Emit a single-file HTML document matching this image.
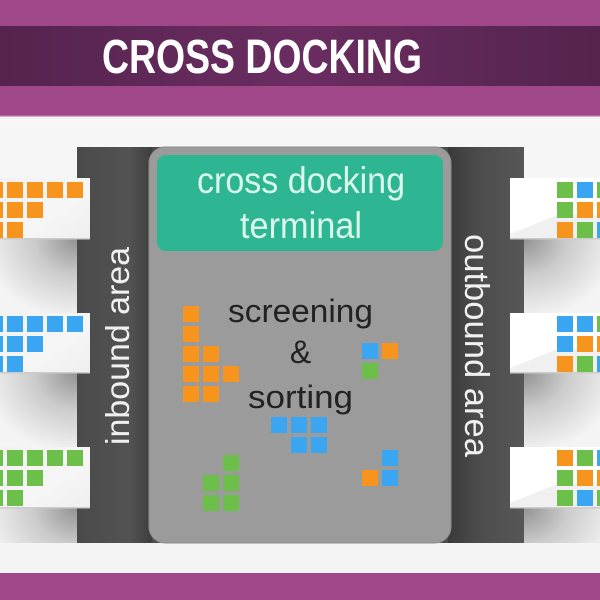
<!DOCTYPE html>
<html>
<head>
<meta charset="utf-8">
<style>
  html, body { margin: 0; padding: 0; background: #f4f4f4; }
  svg { display: block; }
  text { font-family: "Liberation Sans", "DejaVu Sans", sans-serif; }
</style>
</head>
<body>
<svg width="600" height="600" viewBox="0 0 600 600" xmlns="http://www.w3.org/2000/svg">
  <defs>
    <linearGradient id="band" x1="0" y1="0" x2="1" y2="0">
      <stop offset="0" stop-color="#55234e"/>
      <stop offset="0.5" stop-color="#6a2d61"/>
      <stop offset="1" stop-color="#55234e"/>
    </linearGradient>
    <linearGradient id="wall" x1="0" y1="0" x2="0" y2="1">
      <stop offset="0" stop-color="#ececec"/>
      <stop offset="0.1" stop-color="#f7f7f7"/>
      <stop offset="1" stop-color="#f4f4f4"/>
    </linearGradient>
    <radialGradient id="shL" cx="77" cy="239" r="95" gradientUnits="userSpaceOnUse" gradientTransform="translate(77 239) scale(1 0.85) translate(-77 -239)">
      <stop offset="0" stop-color="#929292"/>
      <stop offset="0.45" stop-color="#cbcbcb"/>
      <stop offset="1" stop-color="#f4f4f4"/>
    </radialGradient>
    <radialGradient id="shR" cx="524" cy="239" r="95" gradientUnits="userSpaceOnUse" gradientTransform="translate(524 239) scale(1 0.85) translate(-524 -239)">
      <stop offset="0" stop-color="#929292"/>
      <stop offset="0.45" stop-color="#cbcbcb"/>
      <stop offset="1" stop-color="#f4f4f4"/>
    </radialGradient>
    <linearGradient id="stripL" x1="0" y1="0" x2="1" y2="0">
      <stop offset="0" stop-color="#4a4a4a"/>
      <stop offset="0.7" stop-color="#535353"/>
      <stop offset="1" stop-color="#3e3e3e"/>
    </linearGradient>
    <linearGradient id="stripR" x1="0" y1="0" x2="1" y2="0">
      <stop offset="0" stop-color="#3a3a3a"/>
      <stop offset="0.4" stop-color="#4c4c4c"/>
      <stop offset="1" stop-color="#575757"/>
    </linearGradient>
    <linearGradient id="boxL" x1="0" y1="0" x2="1" y2="1">
      <stop offset="0" stop-color="#f2f2f2"/>
      <stop offset="0.6" stop-color="#f6f6f6"/>
      <stop offset="1" stop-color="#eeeeee"/>
    </linearGradient>
  </defs>

  <!-- background wall -->
  <rect x="0" y="0" width="600" height="600" fill="url(#wall)"/>

  <!-- header -->
  <rect x="0" y="0" width="600" height="116" fill="#a0478a"/>
  <rect x="0" y="26" width="600" height="60" fill="url(#band)"/>
  <rect x="0" y="115" width="600" height="2" fill="#c07bb0" opacity="0.6"/>
  <text x="102" y="73" font-size="48" font-weight="bold" fill="#ffffff" textLength="320" lengthAdjust="spacingAndGlyphs">CROSS DOCKING</text>

  <!-- footer -->
  <rect x="0" y="573" width="600" height="27" fill="#a0478a"/>

  <!-- left shadows -->
  <rect x="0" y="239" width="77" height="74" fill="url(#shL)"/>
  <g transform="translate(0 134)"><rect x="0" y="239" width="77" height="74" fill="url(#shL)"/></g>
  <g transform="translate(0 269)"><rect x="0" y="239" width="77" height="35" fill="url(#shL)"/></g>

  <!-- right shadows -->
  <rect x="524" y="239" width="76" height="74" fill="url(#shR)"/>
  <g transform="translate(0 134)"><rect x="524" y="239" width="76" height="74" fill="url(#shR)"/></g>
  <g transform="translate(0 269)"><rect x="524" y="239" width="76" height="35" fill="url(#shR)"/></g>

  <!-- dark panel -->
  <rect x="77" y="147" width="447" height="396" fill="#4b4b4b"/>
  <rect x="77" y="147" width="75" height="396" fill="url(#stripL)"/>
  <rect x="448" y="147" width="76" height="396" fill="url(#stripR)"/>

  <!-- gray terminal -->
  <rect x="149" y="147" width="302" height="396" rx="16" fill="#9b9b9b" stroke="#8c8c8c" stroke-width="1"/>
  <!-- teal header -->
  <rect x="157" y="155" width="286" height="96" rx="9" fill="#2eb592"/>
  <text x="197" y="193" font-size="37" fill="#d9f7ec" textLength="208" lengthAdjust="spacingAndGlyphs">cross docking</text>
  <text x="240" y="238" font-size="37" fill="#d9f7ec" textLength="122" lengthAdjust="spacingAndGlyphs">terminal</text>

  <!-- screening & sorting -->
  <text x="228" y="322" font-size="32" fill="#222222" textLength="145" lengthAdjust="spacingAndGlyphs">screening</text>
  <text x="300.5" y="363" font-size="32" fill="#222222" text-anchor="middle">&amp;</text>
  <text x="248" y="408" font-size="32" fill="#222222" textLength="105" lengthAdjust="spacingAndGlyphs">sorting</text>

  <!-- vertical labels -->
  <text transform="translate(129 445) rotate(-90)" font-size="33" fill="#f0f0f0" textLength="198" lengthAdjust="spacingAndGlyphs">inbound area</text>
  <text transform="translate(465 234) rotate(90)" font-size="34" fill="#f0f0f0" textLength="223" lengthAdjust="spacingAndGlyphs">outbound area</text>

  <!-- left boxes -->
  <g>
    <rect x="0" y="178" width="90" height="61" fill="url(#boxL)"/>
    <rect x="0" y="238" width="90" height="1.5" fill="#cccccc"/>
    <rect x="0" y="313" width="90" height="60" fill="url(#boxL)"/>
    <rect x="0" y="372" width="90" height="1.5" fill="#cccccc"/>
    <rect x="0" y="447" width="90" height="61" fill="url(#boxL)"/>
    <rect x="0" y="507" width="90" height="1.5" fill="#cccccc"/>
  </g>
  <!-- orange -->
  <g fill="#f7941e">
    <rect x="-13" y="182" width="16" height="16"/><rect x="7" y="182" width="16" height="16"/><rect x="27" y="182" width="16" height="16"/><rect x="47" y="182" width="16" height="16"/><rect x="67" y="182" width="16" height="16"/>
    <rect x="-13" y="202" width="16" height="16"/><rect x="7" y="202" width="16" height="16"/><rect x="27" y="202" width="16" height="16"/>
    <rect x="-13" y="222" width="16" height="16"/><rect x="7" y="222" width="16" height="16"/>
  </g>
  <!-- blue -->
  <g fill="#3aa6f1">
    <rect x="-13" y="316" width="16" height="16"/><rect x="7" y="316" width="16" height="16"/><rect x="27" y="316" width="16" height="16"/><rect x="47" y="316" width="16" height="16"/><rect x="67" y="316" width="16" height="16"/>
    <rect x="-13" y="336" width="16" height="16"/><rect x="7" y="336" width="16" height="16"/><rect x="27" y="336" width="16" height="16"/>
    <rect x="-13" y="356" width="16" height="16"/><rect x="7" y="356" width="16" height="16"/>
  </g>
  <!-- green -->
  <g fill="#6cc04a">
    <rect x="-13" y="450" width="16" height="16"/><rect x="7" y="450" width="16" height="16"/><rect x="27" y="450" width="16" height="16"/><rect x="47" y="450" width="16" height="16"/><rect x="67" y="450" width="16" height="16"/>
    <rect x="-13" y="470" width="16" height="16"/><rect x="7" y="470" width="16" height="16"/><rect x="27" y="470" width="16" height="16"/>
    <rect x="-13" y="490" width="16" height="16"/><rect x="7" y="490" width="16" height="16"/>
  </g>

  <!-- right boxes -->
  <g>
    <rect x="510" y="178" width="90" height="61" fill="#ffffff"/>
    <polygon points="510,239 510,234 560,214 600,216 600,239" fill="#f0f0f0"/>
    <rect x="510" y="238" width="90" height="1.5" fill="#cccccc"/>
    <rect x="510" y="313" width="90" height="60" fill="#ffffff"/>
    <polygon points="510,373 510,368 560,348 600,350 600,373" fill="#f0f0f0"/>
    <rect x="510" y="372" width="90" height="1.5" fill="#cccccc"/>
    <rect x="510" y="447" width="90" height="61" fill="#ffffff"/>
    <polygon points="510,508 510,503 560,483 600,485 600,508" fill="#f0f0f0"/>
    <rect x="510" y="507" width="90" height="1.5" fill="#cccccc"/>
  </g>
  <!-- right box 1 -->
  <rect x="557" y="182" width="16" height="16" fill="#6cc04a"/>
  <rect x="577" y="182" width="16" height="16" fill="#3aa6f1"/>
  <rect x="597" y="182" width="16" height="16" fill="#6cc04a"/>
  <rect x="557" y="202" width="16" height="16" fill="#6cc04a"/>
  <rect x="577" y="202" width="16" height="16" fill="#f7941e"/>
  <rect x="597" y="202" width="16" height="16" fill="#f7941e"/>
  <rect x="557" y="222" width="16" height="16" fill="#f7941e"/>
  <rect x="577" y="222" width="16" height="16" fill="#6cc04a"/>
  <rect x="597" y="222" width="16" height="16" fill="#3aa6f1"/>
  <!-- right box 2 -->
  <rect x="557" y="316" width="16" height="16" fill="#3aa6f1"/>
  <rect x="577" y="316" width="16" height="16" fill="#3aa6f1"/>
  <rect x="597" y="316" width="16" height="16" fill="#6cc04a"/>
  <rect x="557" y="336" width="16" height="16" fill="#3aa6f1"/>
  <rect x="577" y="336" width="16" height="16" fill="#f7941e"/>
  <rect x="597" y="336" width="16" height="16" fill="#f7941e"/>
  <rect x="557" y="356" width="16" height="16" fill="#f7941e"/>
  <rect x="577" y="356" width="16" height="16" fill="#6cc04a"/>
  <rect x="597" y="356" width="16" height="16" fill="#3aa6f1"/>
  <!-- right box 3 -->
  <rect x="557" y="450" width="16" height="16" fill="#f7941e"/>
  <rect x="577" y="450" width="16" height="16" fill="#6cc04a"/>
  <rect x="597" y="450" width="16" height="16" fill="#3aa6f1"/>
  <rect x="557" y="470" width="16" height="16" fill="#6cc04a"/>
  <rect x="577" y="470" width="16" height="16" fill="#f7941e"/>
  <rect x="597" y="470" width="16" height="16" fill="#f7941e"/>
  <rect x="557" y="490" width="16" height="16" fill="#6cc04a"/>
  <rect x="577" y="490" width="16" height="16" fill="#3aa6f1"/>
  <rect x="597" y="490" width="16" height="16" fill="#6cc04a"/>

  <!-- middle clusters -->
  <g fill="#f7941e">
    <rect x="183" y="306" width="16" height="16"/>
    <rect x="183" y="326" width="16" height="16"/>
    <rect x="183" y="346" width="16" height="16"/><rect x="203" y="346" width="16" height="16"/>
    <rect x="183" y="366" width="16" height="16"/><rect x="203" y="366" width="16" height="16"/><rect x="223" y="366" width="16" height="16"/>
    <rect x="183" y="386" width="16" height="16"/><rect x="203" y="386" width="16" height="16"/>
  </g>
  <rect x="362" y="343" width="16" height="16" fill="#3aa6f1"/>
  <rect x="382" y="343" width="16" height="16" fill="#f7941e"/>
  <rect x="362" y="363" width="16" height="16" fill="#6cc04a"/>

  <g fill="#3aa6f1">
    <rect x="271" y="417" width="16" height="16"/><rect x="291" y="417" width="16" height="16"/><rect x="311" y="417" width="16" height="16"/>
    <rect x="291" y="437" width="16" height="16"/><rect x="311" y="437" width="16" height="16"/>
  </g>
  <g fill="#6cc04a">
    <rect x="223" y="455" width="16" height="16"/>
    <rect x="203" y="475" width="16" height="16"/><rect x="223" y="475" width="16" height="16"/>
    <rect x="203" y="495" width="16" height="16"/><rect x="223" y="495" width="16" height="16"/>
  </g>
  <rect x="382" y="450" width="16" height="16" fill="#3aa6f1"/>
  <rect x="362" y="470" width="16" height="16" fill="#f7941e"/>
  <rect x="382" y="470" width="16" height="16" fill="#3aa6f1"/>
</svg>
</body>
</html>
